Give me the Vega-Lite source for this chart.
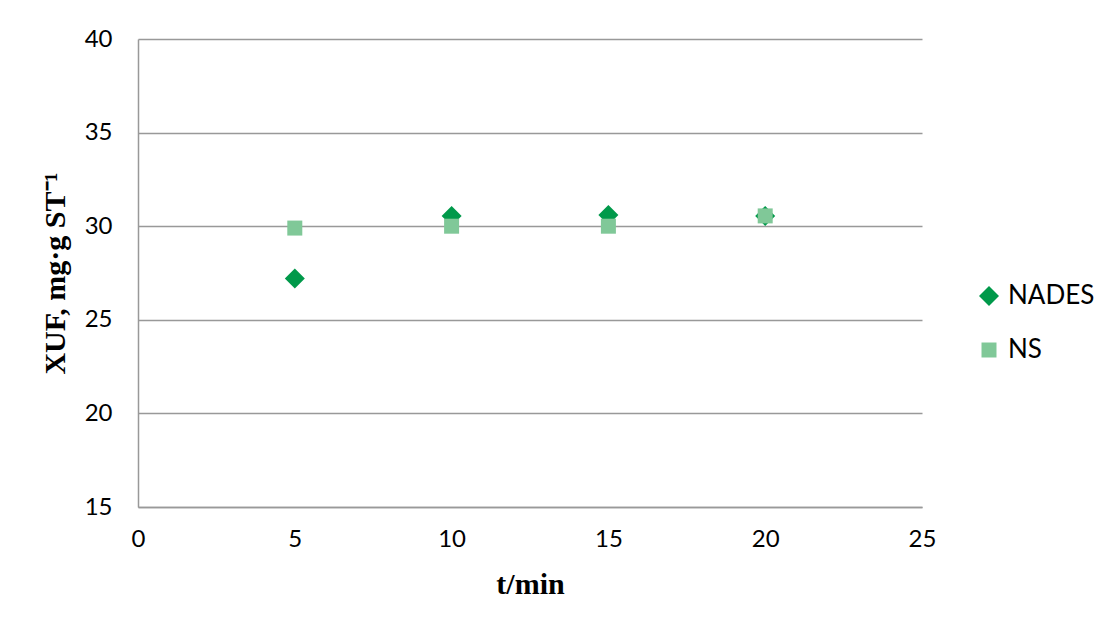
{
  "$schema": "https://vega.github.io/schema/vega-lite/v6.json",
  "width": 784,
  "height": 468,
  "autosize": {"type": "none"},
  "padding": {"left": 138, "top": 39, "right": 187, "bottom": 122},
  "background": "white",
  "data": {
    "values": [
      {"t": 5, "X": 27.2, "series": "NADES"},
      {"t": 10, "X": 30.55, "series": "NADES"},
      {"t": 15, "X": 30.6, "series": "NADES"},
      {"t": 20, "X": 30.55, "series": "NADES"},
      {"t": 5, "X": 29.9, "series": "NS"},
      {"t": 10, "X": 30.0, "series": "NS"},
      {"t": 15, "X": 30.0, "series": "NS"},
      {"t": 20, "X": 30.55, "series": "NS"}
    ]
  },
  "mark": {"type": "point", "filled": true, "opacity": 1},
  "encoding": {
    "x": {
      "field": "t", "type": "quantitative",
      "scale": {"domain": [0, 25], "nice": false, "zero": false},
      "axis": {
        "values": [0, 5, 10, 15, 20, 25],
        "title": "t/min",
        "grid": false, "ticks": false,
        "labelFlush": false,
        "labelBound": false,
        "labelPadding": 20,
        "titlePadding": 18
      }
    },
    "y": {
      "field": "X", "type": "quantitative",
      "scale": {"domain": [15, 40], "nice": false, "zero": false},
      "axis": {
        "values": [15, 20, 25, 30, 35, 40],
        "title": "XUF, mg·g ST⁻¹",
        "grid": true, "ticks": false,
        "labelFlush": false,
        "labelBound": false,
        "labelPadding": 26,
        "titlePadding": 14
      }
    },
    "color": {
      "field": "series", "type": "nominal",
      "scale": {"domain": ["NADES", "NS"], "range": ["#00994A", "#80C898"]},
      "legend": {"title": null}
    },
    "shape": {
      "field": "series", "type": "nominal",
      "scale": {"domain": ["NADES", "NS"], "range": ["diamond", "square"]}
    },
    "size": {
      "field": "series", "type": "nominal",
      "scale": {"domain": ["NADES", "NS"], "range": [400, 225]}
    },
    "order": {"field": "series", "sort": "ascending"}
  },
  "config": {
    "view": {"stroke": null},
    "axis": {
      "domainColor": "#999999",
      "domainWidth": 1.5,
      "gridColor": "#999999",
      "gridWidth": 1.5,
      "labelFont": "Lato",
      "labelFontSize": 24,
      "labelColor": "#000000",
      "titleFont": "Liberation Serif",
      "titleFontSize": 30,
      "titleFontWeight": "bold",
      "titleColor": "#000000"
    },
    "legend": {
      "orient": "none",
      "legendX": 838,
      "legendY": 244,
      "padding": 0,
      "labelFont": "Lato",
      "labelFontSize": 26,
      "labelColor": "#000000",
      "labelOffset": 6,
      "rowPadding": 28,
      "symbolStrokeWidth": 0
    }
  }
}
